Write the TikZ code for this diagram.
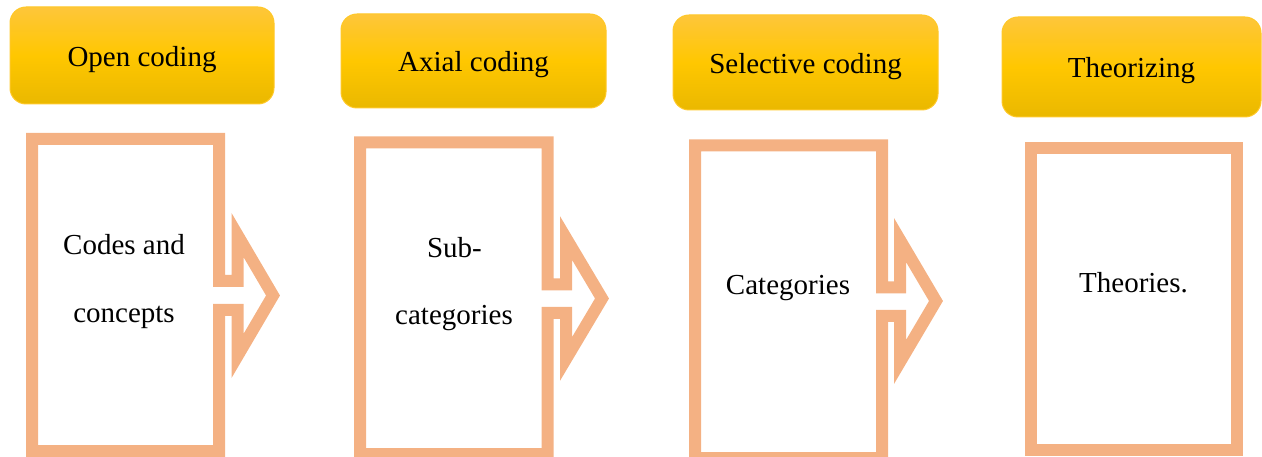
\documentclass[tikz,border=0pt]{standalone}
\usepackage{fontspec}
\setmainfont{Liberation Serif}
\definecolor{salmon}{RGB}{244,177,131}
\definecolor{goldtop}{RGB}{254,198,58}
\definecolor{goldmid}{RGB}{255,199,0}
\definecolor{goldbot}{RGB}{234,184,0}
\definecolor{goldline}{RGB}{255,200,40}
\begin{document}
\begin{tikzpicture}[x=1pt,y=-1pt,
  header/.style={draw=goldline, line width=1pt, rounded corners=16pt,
    top color=goldtop, bottom color=goldbot, middle color=goldmid,
    font=\fontsize{29}{35}\selectfont, text height=23pt, text depth=1pt, inner sep=0pt},
  calloutline/.style={draw=salmon, line width=12pt, line join=miter, miter limit=10},
  txt/.style={font=\fontsize{29}{35}\selectfont, anchor=base, inner sep=0pt}]
\useasboundingbox (0,0) rectangle (1262,457);
\clip (0,0) rectangle (1262,457);
% headers
\node[header, minimum width=264pt, minimum height=97pt] (h1) at (142,55.5) {Open coding};
\node[header, minimum width=265pt, minimum height=94pt] (h2) at (473.5,61) {Axial coding};
\node[header, minimum width=265pt, minimum height=95pt] (h3) at (805.5,62.5) {Selective coding};
\node[header, minimum width=259pt, minimum height=100pt] (h4) at (1131.5,67) {Theorizing};
% bodies
\draw[calloutline] (32,139) -- (219,139) -- (219,281) -- (237.5,281) -- (237.5,235) -- (273,295.5)
  -- (237.5,356) -- (237.5,310) -- (219,310) -- (219,451) -- (32,451) -- cycle;
\draw[calloutline] (360,142.5) -- (547.5,142.5) -- (547.5,284.5) -- (566,284.5) -- (566,238) -- (602,298.5)
  -- (566,359) -- (566,313) -- (547.5,313) -- (547.5,454) -- (360,454) -- cycle;
\draw[calloutline] (695,145.5) -- (882,145.5) -- (882,287.5) -- (900,287.5) -- (900,240) -- (936,301)
  -- (900,362) -- (900,316) -- (882,316) -- (882,458) -- (695,458) -- cycle;
\draw[calloutline] (1031,148.5) rectangle (1237,449.5);
% texts
\node[txt] (t1a) at (124,255) {Codes and};
\node[txt] (t1b) at (124,323) {concepts};
\node[txt] (t2a) at (454.5,258) {Sub-};
\node[txt] (t2b) at (454,324) {categories};
\node[txt] (t3) at (788,295) {Categories};
\node[txt] (t4) at (1133.5,293) {Theories.};
\end{tikzpicture}
\end{document}
